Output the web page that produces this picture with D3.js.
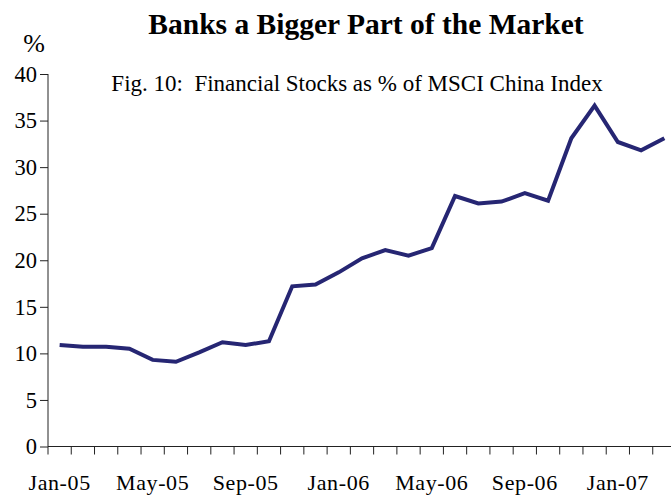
<!DOCTYPE html>
<html>
<head>
<meta charset="utf-8">
<script src="https://cdn.jsdelivr.net/npm/d3@7/dist/d3.min.js"></script>
<style>
  html, body { margin: 0; padding: 0; background: #fff; }
  svg { display: block; }
  text { font-family: "Liberation Serif", "Times New Roman", serif; fill: #000; white-space: pre; }
</style>
</head>
<body>
<svg id="chart" width="671" height="495"></svg>
<script>
// Monthly categories, Jan-05 .. Mar-07
const months = [
  "Jan-05","Feb-05","Mar-05","Apr-05","May-05","Jun-05","Jul-05","Aug-05","Sep-05",
  "Oct-05","Nov-05","Dec-05","Jan-06","Feb-06","Mar-06","Apr-06","May-06","Jun-06",
  "Jul-06","Aug-06","Sep-06","Oct-06","Nov-06","Dec-06","Jan-07","Feb-07","Mar-07"
];
// Financial stocks as % of MSCI China Index
const financialShare = [
  10.9, 10.7, 10.7, 10.5, 9.3, 9.1, 10.1, 11.2, 10.9,
  11.3, 17.2, 17.4, 18.7, 20.2, 21.1, 20.5, 21.3, 26.9,
  26.1, 26.3, 27.2, 26.4, 33.1, 36.6, 32.7, 31.8, 33.1
];
const yTicks = [0, 5, 10, 15, 20, 25, 30, 35, 40];
const xLabels = ["Jan-05","May-05","Sep-05","Jan-06","May-06","Sep-06","Jan-07"];

const svg = d3.select("#chart");
const plot = { left: 48, right: 676, top: 74, bottom: 446.5 };

const x = d3.scaleBand().domain(months).range([plot.left, plot.right]).padding(0);
const y = d3.scaleLinear().domain([0, 40]).range([plot.bottom, plot.top]);

// Titles
svg.append("text")
  .attr("x", 366).attr("y", 34)
  .attr("text-anchor", "middle")
  .style("font-weight", "bold").style("font-size", "29.5px")
  .text("Banks a Bigger Part of the Market");

svg.append("text")
  .attr("x", 357).attr("y", 91)
  .attr("text-anchor", "middle")
  .style("font-size", "23px")
  .text("Fig. 10:  Financial Stocks as % of MSCI China Index");

svg.append("text")
  .attr("x", 34).attr("y", 52)
  .attr("text-anchor", "middle")
  .style("font-size", "26px")
  .text("%");

// Y axis
const yAxis = svg.append("g")
  .attr("transform", `translate(${plot.left},0)`)
  .call(d3.axisLeft(y).tickValues(yTicks).tickSize(8).tickPadding(3).tickFormat(d3.format("d")));
yAxis.attr("font-family", null).attr("font-size", null);
yAxis.select(".domain").attr("stroke", "#222").attr("d", `M0,${plot.top}V${plot.bottom}`);
yAxis.selectAll(".tick line").attr("stroke", "#222");
yAxis.selectAll(".tick text")
  .style("font-size", "22.5px")
  .attr("fill", "#000");

// X axis: tick marks on category boundaries, labels every fourth month
const boundaries = d3.range(months.length + 1).map(i => plot.left + i * x.bandwidth());
const xAxisG = svg.append("g");
xAxisG.append("line")
  .attr("x1", plot.left).attr("x2", plot.right)
  .attr("y1", plot.bottom).attr("y2", plot.bottom)
  .attr("stroke", "#222");
xAxisG.selectAll("line.tick")
  .data(boundaries)
  .join("line")
  .attr("class", "tick")
  .attr("x1", d => d).attr("x2", d => d)
  .attr("y1", plot.bottom).attr("y2", plot.bottom + 8)
  .attr("stroke", "#222");
xAxisG.selectAll("text")
  .data(xLabels)
  .join("text")
  .attr("x", d => x(d) + x.bandwidth() / 2)
  .attr("y", 490)
  .attr("text-anchor", "middle")
  .style("font-size", "22px")
  .style("letter-spacing", "0.6px")
  .text(d => d);

// Series line
const line = d3.line()
  .x((d, i) => x(months[i]) + x.bandwidth() / 2)
  .y(d => y(d));

svg.append("path")
  .datum(financialShare)
  .attr("fill", "none")
  .attr("stroke", "#262673")
  .attr("stroke-width", 4)
  .attr("stroke-linejoin", "miter")
  .attr("d", line);
</script>
</body>
</html>
